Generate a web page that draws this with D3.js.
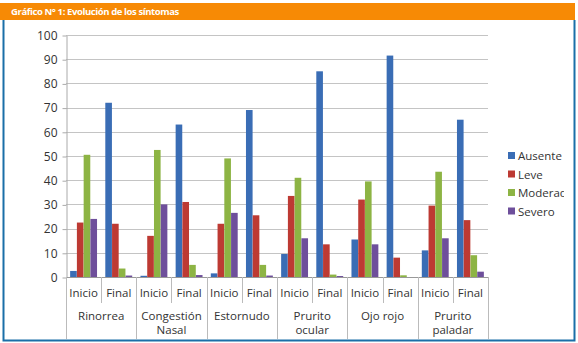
<!DOCTYPE html>
<html>
<head>
<meta charset="utf-8">
<style>
  body { margin: 0; background: #fff; }
  text { font-family: "Open Sans", "DejaVu Sans", sans-serif; }
</style>
</head>
<body>
<script src="https://cdn.jsdelivr.net/npm/d3@7"></script>
<script>
// data
var groups = ["Rinorrea", "Congestión Nasal", "Estornudo", "Prurito ocular", "Ojo rojo", "Prurito paladar"];
var phases = ["Inicio", "Final"];
var series = ["Ausente", "Leve", "Moderad", "Severo"];
var colors = ["#3a6db5", "#bd3a33", "#8db444", "#6e4f9b"];
var yTicks = [0, 10, 20, 30, 40, 50, 60, 70, 80, 90, 100];

// one value per group+phase, in the order Inicio, Final
var ausente  = [2.5, 72,  0.5, 63,  1.5, 69,  9.5, 85,  15.5, 91.5, 11, 65];
var leve     = [22.5, 22, 17, 31,  22, 25.5,  33.5, 13.5, 32, 8,  29.5, 23.5];
var moderado = [50.5, 3.5, 52.5, 5, 49, 5,  41, 1,  39.5, 0.7,  43.5, 9];
var severo   = [24, 0.6,  30, 0.8,  26.5, 0.6,  16, 0.4,  13.5, 0,  16, 2.2];

var W = 578, H = 343;
var svg = d3.select("body").append("svg").attr("width", W).attr("height", H);

// header bar + frame
svg.append("rect").attr("x", 0).attr("y", 3).attr("width", 575).attr("height", 17).attr("fill", "#f78a05");
svg.append("text").attr("x", 11).attr("y", 15).attr("fill", "#fff")
  .style("font-size", "9.5px").style("font-weight", "bold").style("letter-spacing", "-0.4px")
  .text("Gráfico N° 1: Evolución de los síntomas");
svg.append("path").attr("d", "M3.5,20 V340.5 H574.5 V20")
  .attr("fill", "none").attr("stroke", "#1a6fa8").attr("stroke-width", 2);

var plotLeft = 66, plotRight = 488, plotTop = 35, base = 277;

var y = d3.scaleLinear().domain([0, 100]).range([base, plotTop]);
var xg = d3.scaleBand().domain(groups).range([plotLeft, plotRight]).padding(0);
var xp = d3.scaleBand().domain(phases).range([0, xg.bandwidth()]).padding(0);
var xs = d3.scaleBand().domain(series).range([4, xp.bandwidth() - 4]).padding(0.02);

// gridlines
svg.append("g").selectAll("line").data(yTicks.slice(1)).enter().append("line")
  .attr("x1", plotLeft).attr("x2", plotRight)
  .attr("y1", function(d) { return Math.round(y(d)) + 0.5; })
  .attr("y2", function(d) { return Math.round(y(d)) + 0.5; })
  .attr("stroke", "#c4c4c4").attr("stroke-width", 1.2);

// y axis
var yAxis = svg.append("g").attr("transform", "translate(" + (plotLeft + 0.5) + ",0.5)")
  .call(d3.axisLeft(y).tickValues(yTicks).tickSize(4).tickSizeOuter(0));
yAxis.select(".domain").attr("stroke", "#aaa");
yAxis.selectAll(".tick line").attr("stroke", "#aaa");
yAxis.selectAll("text").attr("x", -9).style("font-size", "12px").attr("fill", "#333")
  .style("font-family", "'Open Sans', sans-serif");

// bars
var rows = [];
groups.forEach(function(g, gi) {
  phases.forEach(function(p, pi) {
    var i = gi * 2 + pi;
    [ausente[i], leve[i], moderado[i], severo[i]].forEach(function(v, si) {
      rows.push({g: g, p: p, s: series[si], v: v, c: colors[si]});
    });
  });
});
svg.append("g").selectAll("rect").data(rows).enter().append("rect")
  .attr("x", function(d) { return xg(d.g) + xp(d.p) + xs(d.s); })
  .attr("width", xs.bandwidth())
  .attr("y", function(d) { return y(d.v); })
  .attr("height", function(d) { return base - y(d.v); })
  .attr("fill", function(d) { return d.c; });

// x axis baseline
svg.append("line").attr("x1", plotLeft).attr("x2", plotRight).attr("y1", base + 0.5).attr("y2", base + 0.5)
  .attr("stroke", "#999");

// phase separators and labels
var ax = svg.append("g");
groups.forEach(function(g) {
  var sx = Math.round(xg(g) + xp("Final")) + 0.5;
  ax.append("line").attr("x1", sx).attr("x2", sx)
    .attr("y1", base).attr("y2", 303).attr("stroke", "#bbb");
  phases.forEach(function(p) {
    ax.append("text").attr("x", xg(g) + xp(p) + xp.bandwidth() / 2).attr("y", 297)
      .attr("text-anchor", "middle").style("font-size", "11.5px").attr("fill", "#333").text(p);
  });
  var lines = g === "Ojo rojo" ? [g] : g.split(" ");
  lines.forEach(function(t, li) {
    ax.append("text").attr("x", xg(g) + xg.bandwidth() / 2).attr("y", 320 + li * 14)
      .attr("text-anchor", "middle").style("font-size", "11.5px").attr("fill", "#333").text(t);
  });
});
groups.concat(["end"]).forEach(function(g) {
  var xv = g === "end" ? plotRight : xg(g);
  ax.append("line").attr("x1", Math.round(xv) + 0.5).attr("x2", Math.round(xv) + 0.5)
    .attr("y1", base).attr("y2", 339).attr("stroke", "#bbb");
});

// legend
svg.append("clipPath").attr("id", "lc").append("rect").attr("x", 500).attr("y", 140).attr("width", 64).attr("height", 90);
var lg = svg.append("g").attr("clip-path", "url(#lc)");
series.forEach(function(s, i) {
  var ly = 156 + i * 18.5;
  lg.append("rect").attr("x", 508).attr("y", ly - 4).attr("width", 7).attr("height", 7).attr("fill", colors[i]);
  lg.append("text").attr("x", 518).attr("y", ly + 4).style("font-size", "11.5px").attr("fill", "#333").text(s);
});
</script>
</body>
</html>
